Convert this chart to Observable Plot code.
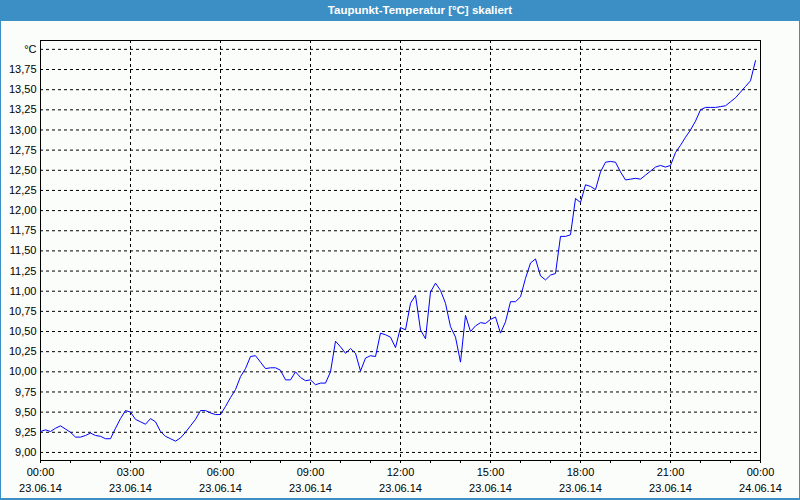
<!DOCTYPE html>
<html>
<head>
<meta charset="utf-8">
<script src="https://cdn.jsdelivr.net/npm/d3@7"></script>
<script src="https://cdn.jsdelivr.net/npm/@observablehq/plot@0.6"></script>
<style>
  html, body { margin: 0; padding: 0; background: #ffffff; }
  #win { position: relative; width: 800px; height: 500px; background: #fbfdfb; overflow: hidden; font-family: "Liberation Sans", Arial, sans-serif; }
  #titlebar { position: absolute; left: 0; top: 0; width: 800px; height: 21px; background: #3c8fc4; color: #ffffff; font-weight: bold; font-size: 11.5px; line-height: 21px; text-align: center; box-sizing: border-box; padding-left: 40px; }
  #chart { position: absolute; left: 0; top: 21px; }
  #border { position: absolute; left: 0; top: 0; width: 800px; height: 500px; box-sizing: border-box; border-left: 1px solid #3c8fc4; border-right: 1px solid #3c8fc4; border-bottom: 2px solid #3c8fc4; pointer-events: none; }
</style>
</head>
<body>
<div id="win">
  <div id="titlebar">Taupunkt-Temperatur [°C] skaliert</div>
  <div id="chart"></div>
  <div id="border"></div>
</div>
<script>
// ---- data ----
const startTime = "2014-06-23T00:00:00Z";
const stepMinutes = 10;
const dewPoint = [
  9.26, 9.28, 9.26, 9.30, 9.33, 9.29, 9.25, 9.19, 9.19, 9.21,
  9.24, 9.21, 9.20, 9.17, 9.17, 9.30, 9.42, 9.52, 9.50, 9.41,
  9.38, 9.35, 9.42, 9.38, 9.26, 9.20, 9.17, 9.14, 9.18, 9.25,
  9.33, 9.41, 9.52, 9.52, 9.49, 9.47, 9.47, 9.57, 9.68, 9.78,
  9.94, 10.04, 10.19, 10.20, 10.12, 10.04, 10.05, 10.05, 10.02, 9.90,
  9.90, 10.00, 9.93, 9.89, 9.90, 9.84, 9.86, 9.86, 10.00, 10.38,
  10.31, 10.23, 10.29, 10.23, 10.01, 10.17, 10.20, 10.19, 10.48, 10.46,
  10.43, 10.30, 10.55, 10.52, 10.85, 10.95, 10.52, 10.41, 10.99, 11.10,
  11.01, 10.85, 10.56, 10.43, 10.12, 10.70, 10.50, 10.57, 10.61, 10.60,
  10.65, 10.68, 10.48, 10.62, 10.87, 10.87, 10.93, 11.16, 11.35, 11.40,
  11.19, 11.14, 11.20, 11.22, 11.68, 11.68, 11.70, 12.15, 12.10, 12.32,
  12.30, 12.26, 12.48, 12.60, 12.61, 12.60, 12.48, 12.38, 12.39, 12.40,
  12.39, 12.44, 12.49, 12.54, 12.56, 12.54, 12.56, 12.72, 12.81, 12.91,
  13.00, 13.11, 13.25, 13.28, 13.28, 13.28, 13.29, 13.30, 13.35, 13.40,
  13.47, 13.54, 13.61, 13.86
];
const xTickHours = [0, 3, 6, 9, 12, 15, 18, 21, 24];
const xTickTimes = ["00:00", "03:00", "06:00", "09:00", "12:00", "15:00", "18:00", "21:00", "00:00"];
const xTickDates = ["23.06.14", "23.06.14", "23.06.14", "23.06.14", "23.06.14", "23.06.14", "23.06.14", "23.06.14", "24.06.14"];
const yTickValues = [9.00, 9.25, 9.50, 9.75, 10.00, 10.25, 10.50, 10.75, 11.00, 11.25, 11.50, 11.75, 12.00, 12.25, 12.50, 12.75, 13.00, 13.25, 13.50, 13.75, 14.00];
const yTickLabels = ["9,00", "9,25", "9,50", "9,75", "10,00", "10,25", "10,50", "10,75", "11,00", "11,25", "11,50", "11,75", "12,00", "12,25", "12,50", "12,75", "13,00", "13,25", "13,50", "13,75", "°C"];
const xGridHours = [3, 6, 9, 12, 15, 18, 21];

// ---- build ----
const t0 = Date.parse(startTime);
const hourToDate = h => new Date(t0 + h * 3600000);
const series = dewPoint.map((v, i) => ({date: new Date(t0 + i * stepMinutes * 60000), value: v}));
const xTicks = xTickHours.map((h, i) => ({date: hourToDate(h), time: xTickTimes[i], day: xTickDates[i]}));
const yTicks = yTickValues.map((v, i) => ({value: v, label: yTickLabels[i]}));

const chart = Plot.plot({
  width: 800,
  height: 479,
  marginLeft: 40,
  marginRight: 40,
  marginTop: 19,
  marginBottom: 40,
  style: {background: "transparent", fontFamily: "'Liberation Sans', Arial, sans-serif", fontSize: "11px", color: "#000"},
  x: {type: "utc", domain: [hourToDate(0), hourToDate(24)]},
  y: {domain: [8.9, 14.11], axis: null},
  marks: [
    Plot.ruleY(yTickValues, {stroke: "#000", strokeWidth: 1, strokeDasharray: "3,3", strokeOpacity: 1}),
    Plot.ruleX(xGridHours.map(hourToDate), {stroke: "#000", strokeWidth: 1, strokeDasharray: "3,3", strokeOpacity: 1}),
    Plot.frame({stroke: "#000", strokeWidth: 1}),
    Plot.axisX({ticks: d3.utcHour.every(1), tickSize: 3, tickFormat: () => "", label: null, stroke: "#000"}),
    Plot.text(xTicks, {x: "date", text: "time", frameAnchor: "bottom", dy: 15, fill: "#000", fontSize: 11}),
    Plot.text(xTicks, {x: "date", text: "day", frameAnchor: "bottom", dy: 31, fill: "#000", fontSize: 11}),
    Plot.text(yTicks, {y: "value", text: "label", frameAnchor: "left", textAnchor: "end", dx: -4, fill: "#000", fontSize: 11}),
    Plot.line(series, {x: "date", y: "value", stroke: "#0000ff", strokeWidth: 1})
  ]
});
document.getElementById("chart").appendChild(chart);
</script>
</body>
</html>
